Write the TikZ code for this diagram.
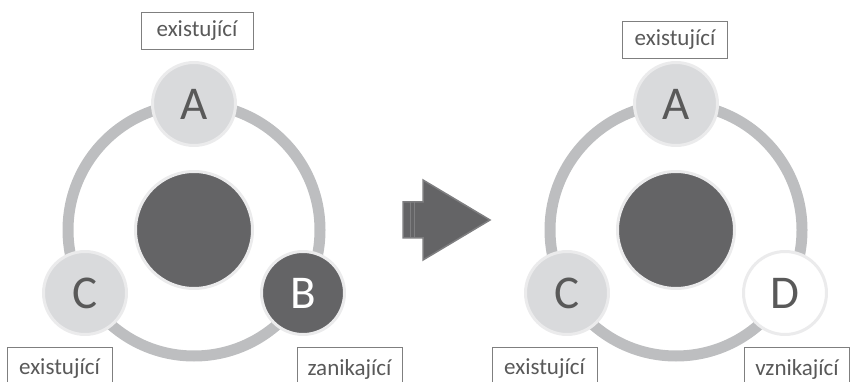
\documentclass[tikz,border=0pt]{standalone}
\usepackage{fontspec}
\setmainfont{Carlito}
\definecolor{ringgray}{HTML}{BDBEC0}
\definecolor{lightfill}{HTML}{D9DADC}
\definecolor{darkfill}{HTML}{646466}
\definecolor{rimgray}{HTML}{EBEBEC}
\definecolor{textgray}{HTML}{595959}
\definecolor{boxgray}{HTML}{7F7F7F}
\definecolor{arrowgray}{HTML}{646466}
\definecolor{arrowedge}{HTML}{7E7E80}
\tikzset{
	stage/.style={circle, minimum size=83pt, inner sep=0pt, line width=3pt, draw=rimgray, fill=lightfill, text=textgray, font=\fontsize{47}{47}\selectfont},
	hub/.style={circle, minimum size=117pt, inner sep=0pt, line width=3pt, draw=rimgray, fill=darkfill},
	tag/.style={rectangle, draw=boxgray, line width=0.8pt, fill=white, minimum width=105pt, minimum height=37pt, inner sep=0pt, text=textgray, font=\fontsize{23}{23}\selectfont},
	lowtag/.style={tag, minimum height=44pt},
}
\begin{document}
\begin{tikzpicture}[x=1pt, y=-1pt]

	\useasboundingbox (0,0) rectangle (857,382);

	\draw[ringgray, line width=11pt] (194,230) circle (126pt);
	\draw[ringgray, line width=11pt] (676,230) circle (126pt);

	\node[hub] (hubL) at (194,230) {};
	\node[stage] (aL) at (194,104) {A};
	\node[stage, fill=darkfill, text=white] (bL) at (303,293) {B};
	\node[stage] (cL) at (85,293) {C};

	\node[hub] (hubR) at (676,230) {};
	\node[stage] (aR) at (676,104) {A};
	\node[stage, fill=white] (dR) at (785,293) {D};
	\node[stage] (cR) at (567,293) {C};

	\node[tag, minimum width=112pt] (tagAL) at (197,31) {existující};
	\node[lowtag] (tagCL) at (59.5,369) {existující};
	\node[lowtag] (tagBL) at (349.5,369) {zanikající};

	\node[tag] (tagAR) at (675,40) {existující};
	\node[lowtag] (tagCR) at (544.5,369) {existující};
	\node[lowtag] (tagDR) at (797,369) {vznikající};

	\draw[arrowedge, line width=1.5pt, fill=arrowgray, line join=miter]
		(403,202) -- (423,202) -- (423,180) -- (490,220) -- (423,260) -- (423,238) -- (403,238) -- cycle;
	\draw[arrowedge, line width=1pt] (410,202) -- (410,238);
	\draw[arrowedge, line width=1pt] (414,202) -- (414,238);

\end{tikzpicture}
\end{document}
